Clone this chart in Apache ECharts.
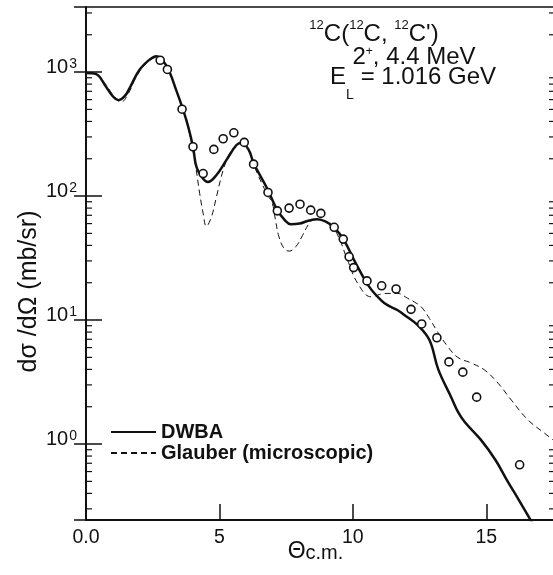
<!DOCTYPE html>
<html>
<head>
<meta charset="utf-8">
<script src="https://cdn.jsdelivr.net/npm/echarts@6/dist/echarts.min.js"></script>
<style>
  html, body { margin: 0; padding: 0; background: #fff; }
  #chart { width: 553px; height: 575px; }
</style>
</head>
<body>
<div id="chart"></div>
<script>
// DWBA calculation (solid line)
const dwbaTheta = [0, 0.38, 0.75, 1.0, 1.22, 1.45, 1.63, 2.0, 2.38, 2.63, 3.0, 3.38, 3.76, 4.01, 4.14, 4.39, 4.57, 4.89, 5.26, 5.64, 5.83, 6.1, 6.28, 6.79, 7.17, 7.45, 7.67, 8.0, 8.3, 8.67, 9.0, 9.3, 9.67, 10.11, 10.61, 11.05, 11.3, 11.68, 11.93, 12.43, 12.87, 13.2, 13.68, 13.95, 14.2, 14.8, 15.35, 15.8, 16.2, 16.63, 16.9];
const dwbaSigma = [985, 964, 760, 640, 594, 640, 740, 1038, 1260, 1345, 1138, 716, 410, 250, 172, 138, 130, 148, 195, 258, 269, 235, 185, 115, 77, 64, 59.4, 60, 63, 65, 62, 56, 44, 28.7, 18.6, 14.5, 13.2, 12, 11, 9.1, 6.9, 4.0, 2.4, 1.8, 1.5, 1.08, 0.74, 0.5, 0.36, 0.25, 0.2];

// Glauber (microscopic) calculation (dashed line)
const glauberTheta = [0, 0.38, 0.75, 1.0, 1.32, 1.6, 1.88, 2.26, 2.69, 3.0, 3.38, 3.76, 4.07, 4.26, 4.39, 4.51, 4.7, 4.89, 5.14, 5.39, 5.64, 5.83, 6.1, 6.28, 6.77, 6.98, 7.1, 7.23, 7.42, 7.61, 7.86, 8.11, 8.36, 8.55, 8.8, 9.1, 9.4, 9.8, 10.18, 10.68, 10.93, 11.18, 11.68, 12.05, 12.3, 12.56, 12.87, 13.18, 13.56, 13.93, 14.44, 14.94, 15.44, 15.94, 16.57, 17.19, 17.5];
const glauberSigma = [985, 965, 790, 660, 575, 680, 915, 1175, 1320, 1140, 716, 410, 195, 105, 72.5, 57, 68, 99, 162, 221, 258, 266, 238, 180, 105, 87.5, 64, 47, 37.9, 36, 39, 48, 60, 64.6, 64, 59, 50, 30.5, 19.8, 15.4, 15.9, 16.4, 16.4, 15.0, 14.0, 12.8, 10.3, 8.0, 6.1, 5.0, 4.5, 3.95, 3.1, 2.26, 1.56, 1.22, 1.08];

// measured cross sections (open circles)
const dataTheta = [2.78, 3.05, 3.6, 4.01, 4.39, 4.79, 5.14, 5.54, 5.93, 6.28, 6.82, 7.17, 7.61, 8.02, 8.42, 8.8, 9.3, 9.64, 9.86, 10.03, 10.53, 11.08, 11.62, 12.18, 12.58, 13.15, 13.6, 14.12, 14.64, 16.25];
const dataSigma = [1246, 1050, 502, 250, 152, 238, 290, 324, 271, 181, 107, 76, 80, 86, 77, 72.5, 56, 45, 32.4, 26.5, 20.7, 18.9, 17.8, 12.2, 9.3, 7.2, 4.6, 3.8, 2.39, 0.68];

// minor ticks of the log axis
const minorTicks = [0.3, 0.4, 0.5, 0.6, 0.7, 0.8, 0.9, 2, 3, 4, 5, 6, 7, 8, 9, 20, 30, 40, 50, 60, 70, 80, 90, 200, 300, 400, 500, 600, 700, 800, 900, 2000, 3000];

const xMin = 0, xMax = 17.5;
const yMin = 0.244, yMax = 3350;

const font = "'Liberation Sans', Arial, sans-serif";
const ink = '#111';

const zip = (xs, ys) => xs.map((x, i) => [x, ys[i]]);

const chart = echarts.init(document.getElementById('chart'));

const options = {
  backgroundColor: '#fff',
  animation: false,
  grid: { left: 86, right: 0, top: 7, bottom: 55, containLabel: false, outerBoundsMode: 'none' },
  legend: {
    orient: 'vertical',
    left: 110,
    top: 422,
    padding: 0,
    itemWidth: 45,
    itemHeight: 14,
    itemGap: 1,
    itemStyle: { opacity: 0 },
    data: ['DWBA', 'Glauber (microscopic)'],
    textStyle: { fontFamily: font, fontSize: 20, fontWeight: 'bold', color: ink }
  },
  xAxis: [
    {
      type: 'value',
      min: xMin,
      max: xMax,
      interval: 5,
      position: 'bottom',
      splitLine: { show: false },
      axisLine: { lineStyle: { color: ink, width: 2 } },
      axisTick: { inside: true, length: 16, lineStyle: { color: ink, width: 1.5 } },
      axisLabel: {
        showMaxLabel: false,
        margin: 8,
        fontFamily: font,
        fontSize: 19.5,
        color: ink,
        formatter: v => (v === 0 ? '0.0' : String(v))
      },
      name: '{t|\u0398}{c|c.m.}',
      nameLocation: 'middle',
      nameGap: 20,
      nameMoveOverlap: false,
      nameTextStyle: {
        padding: [0, 8, 0, 0],
        rich: {
          t: { fontFamily: font, fontSize: 23, lineHeight: 23, color: ink, verticalAlign: 'bottom' },
          c: { fontFamily: font, fontSize: 20, lineHeight: 20, color: ink, verticalAlign: 'bottom' }
        }
      }
    },
    {
      type: 'value',
      min: xMin,
      max: xMax,
      position: 'top',
      splitLine: { show: false },
      axisLine: { lineStyle: { color: ink, width: 1.5 } },
      axisTick: { show: false },
      axisLabel: { show: false }
    }
  ],
  yAxis: [
    {
      type: 'log',
      logBase: 10,
      min: yMin,
      max: yMax,
      position: 'left',
      splitLine: { show: false },
      axisLine: { lineStyle: { color: ink, width: 2 } },
      axisTick: { inside: true, length: 16, lineStyle: { color: ink, width: 1.5 } },
      axisLabel: {
        showMinLabel: false,
        showMaxLabel: false,
        margin: 9,
        padding: [0, 0, 10, 0],
        formatter: v => {
          const e = Math.log10(v);
          if (Math.abs(e - Math.round(e)) > 1e-6) return '';
          return '{b|10}{s|' + Math.round(e) + '}';
        },
        rich: {
          b: { fontFamily: font, fontSize: 20, lineHeight: 20, color: ink, verticalAlign: 'middle' },
          s: { fontFamily: font, fontSize: 14, lineHeight: 14, color: ink, verticalAlign: 'top', padding: [0, 0, 29, 1] }
        }
      },
      name: 'd\u03c3 /d\u03a9 (mb/sr)',
      nameLocation: 'middle',
      nameGap: 44,
      nameMoveOverlap: false,
      nameTextStyle: { fontFamily: font, fontSize: 25, color: ink, padding: [0, 56, 0, 0] }
    },
    {
      type: 'log',
      logBase: 10,
      min: yMin,
      max: yMax,
      position: 'right',
      splitLine: { show: false },
      axisLine: { show: false },
      axisTick: { inside: true, length: 12, lineStyle: { color: ink, width: 1.5 } },
      axisLabel: { show: false }
    }
  ],
  graphic: [
    {
      type: 'text',
      x: 374,
      y: 32.5,
      style: {
        text: '{s|12}{m|C(}{s|12}{m|C, }{s|12}{m|C\')}',
        align: 'center',
        verticalAlign: 'middle',
        rich: {
          m: { fontFamily: font, fontSize: 24, lineHeight: 28, fill: ink, verticalAlign: 'bottom' },
          s: { fontFamily: font, fontSize: 13, lineHeight: 13, fill: ink, verticalAlign: 'top' }
        }
      }
    },
    {
      type: 'text',
      x: 414,
      y: 57.5,
      style: {
        text: '{m|2}{s|+}{m|, 4.4 MeV}',
        align: 'center',
        verticalAlign: 'middle',
        rich: {
          m: { fontFamily: font, fontSize: 24, lineHeight: 24, fill: ink, verticalAlign: 'bottom' },
          s: { fontFamily: font, fontSize: 12, lineHeight: 14, fill: ink, verticalAlign: 'top' }
        }
      }
    },
    {
      type: 'text',
      x: 330,
      y: 77.5,
      style: { text: 'E', align: 'left', verticalAlign: 'middle', font: '24px ' + font, fill: ink }
    },
    {
      type: 'text',
      x: 346,
      y: 95,
      style: { text: 'L', align: 'left', verticalAlign: 'middle', font: '14px ' + font, fill: ink }
    },
    {
      type: 'text',
      x: 354,
      y: 77.5,
      style: { text: ' = 1.016 GeV', align: 'left', verticalAlign: 'middle', font: '24px ' + font, fill: ink }
    }
  ],
  series: [
    {
      name: 'DWBA',
      type: 'line',
      smooth: 0.4,
      symbol: 'none',
      data: zip(dwbaTheta, dwbaSigma),
      lineStyle: { color: ink, width: 2.5 },
      itemStyle: { color: ink },
      z: 3
    },
    {
      name: 'Glauber (microscopic)',
      type: 'line',
      smooth: 0.4,
      symbol: 'none',
      data: zip(glauberTheta, glauberSigma),
      lineStyle: { color: ink, width: 1, type: [6, 4] },
      itemStyle: { color: ink },
      z: 2
    },
    {
      name: 'data',
      type: 'scatter',
      symbol: 'circle',
      symbolSize: 8,
      data: zip(dataTheta, dataSigma),
      itemStyle: { color: '#fff', opacity: 1, borderColor: ink, borderWidth: 1.6 },
      z: 4
    },
    {
      name: 'minor',
      type: 'custom',
      silent: true,
      clip: false,
      data: minorTicks.map(v => [xMin, v]),
      renderItem: (params, api) => {
        const v = api.value(1);
        const l = api.coord([xMin, v]);
        const r = api.coord([xMax, v]);
        return {
          type: 'group',
          children: [
            { type: 'line', shape: { x1: l[0], y1: l[1], x2: l[0] + 6, y2: l[1] }, style: { stroke: ink, lineWidth: 1.2 } },
            { type: 'line', shape: { x1: r[0] - 4, y1: r[1], x2: r[0], y2: r[1] }, style: { stroke: ink, lineWidth: 1.2 } }
          ]
        };
      },
      z: 5
    }
  ]
};

chart.setOption(options);
</script>
</body>
</html>
